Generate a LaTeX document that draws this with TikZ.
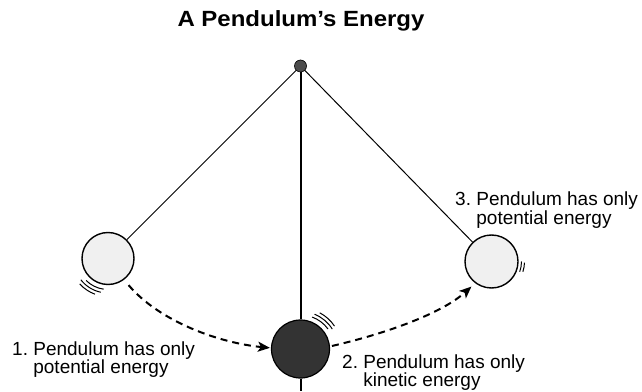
\documentclass[tikz,border=0pt]{standalone}
\usepackage{fontspec}
\setmainfont{Liberation Sans}
\usetikzlibrary{arrows.meta}
\tikzset{
  lightball/.style={circle, draw=black, line width=1.4pt, fill=black!6, inner sep=0pt, minimum size=#1},
  darkball/.style={circle, draw=black, line width=1.2pt, fill=black!80, inner sep=0pt, minimum size=#1},
  rope/.style={line width=1pt},
  swingpath/.style={line width=2pt, dash pattern=on 7pt off 5pt, -{Stealth[length=12pt, width=10pt, inset=3pt]}},
  motion/.style={line width=1pt},
  lbl/.style={anchor=base west, inner sep=0pt, font=\fontsize{19}{16}\selectfont, align=left},
}
\newcommand{\numlabel}[3]{\begin{tabular}[t]{@{}l@{\hspace{0.28em}}l@{}}#1 & #2\\ & #3\end{tabular}}
\begin{document}
\begin{tikzpicture}[x=1pt, y=1pt]
\useasboundingbox (0,0) rectangle (642,391);
% title
\node[anchor=base, inner sep=0pt] (title) at (301,364)
  {\scalebox{1.09}[1]{\fontsize{22}{24}\selectfont\bfseries A Pendulum’s Energy}};
% pivot and balls
\node[circle, draw=black, line width=0.6pt, fill=black!70, inner sep=0pt, minimum size=12pt] (P) at (300.5,325) {};
\node[lightball=52pt] (L) at (108,132.5) {};
\node[lightball=53pt] (R) at (491.5,129.5) {};
\node[darkball=58pt] (D) at (300.5,42) {};
\coordinate (B) at (300.5,0);
% ropes
\draw[rope] (P) -- (L);
\draw[rope] (P) -- (R);
\draw[line width=2pt] (P) -- (D);
\draw[line width=2pt] (D.south) -- (B);
% swing paths
\draw[swingpath, shorten <=7pt, shorten >=1pt] (L.-53) .. controls (160,69) and (220,48) .. (D.178);
\draw[swingpath, shorten <=2pt, shorten >=5pt] (D.5) .. controls (380,56) and (440,76) .. (R.233);
% motion marks
\draw[motion] ([shift={(225:31)}]L.center) arc[start angle=225, end angle=262, radius=31];
\draw[motion] ([shift={(218:34.5)}]L.center) arc[start angle=218, end angle=258, radius=34.5];
\draw[motion] ([shift={(222:38)}]L.center) arc[start angle=222, end angle=250, radius=38];
\draw[motion] ([shift={(36:34)}]D.center) arc[start angle=36, end angle=70, radius=34];
\draw[motion] ([shift={(32:37.5)}]D.center) arc[start angle=32, end angle=68, radius=37.5];
\draw[motion] ([shift={(34:41)}]D.center) arc[start angle=34, end angle=62, radius=41];
\draw[motion] ([shift={(-20:30)}]R.center) arc[start angle=-20, end angle=0, radius=30];
\draw[motion] ([shift={(-18:33)}]R.center) arc[start angle=-18, end angle=-2, radius=33];
% labels
\node[lbl] (t1) at (12,36) {\numlabel{1.}{Pendulum has only}{potential energy}};
\node[lbl] (t2) at (342,23) {\numlabel{2.}{Pendulum has only}{kinetic energy}};
\node[lbl] (t3) at (455,185) {\numlabel{3.}{Pendulum has only}{potential energy}};
\end{tikzpicture}
\end{document}
